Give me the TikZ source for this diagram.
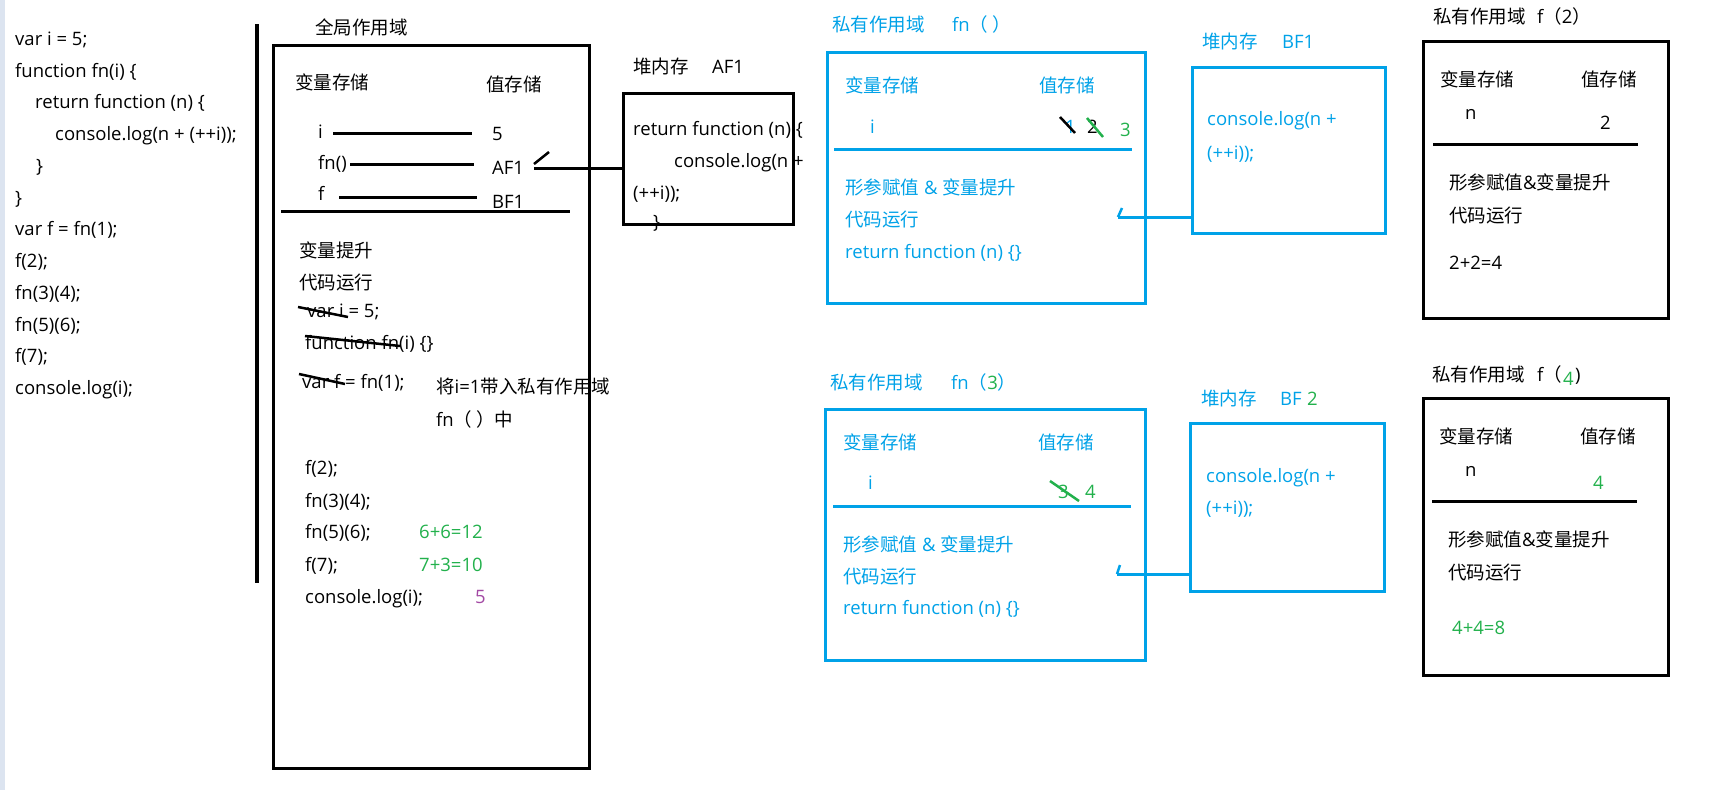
\documentclass[tikz,border=0pt]{standalone}
\usepackage{fontspec}
\setmainfont{Open Sans}
\newfontfamily\cjk{Noto Sans CJK SC}
\newcommand\zh[1]{{\cjk #1}}
\definecolor{pblue}{RGB}{0,162,232}
\definecolor{pgreen}{RGB}{34,177,76}
\definecolor{ppurple}{RGB}{163,73,164}
\definecolor{stripcol}{RGB}{220,228,240}
\begin{document}
\begin{tikzpicture}[x=1pt,y=-1pt,
  t/.style={anchor=west,inner sep=0pt,text height=13pt,text depth=0pt,font=\fontsize{18.5}{22}\selectfont},
  bt/.style={t,text=pblue},
  gt/.style={t,text=pgreen},
  kbox/.style={draw=black,line width=3pt,inner sep=0pt},
  bbox/.style={draw=pblue,line width=3pt,inner sep=0pt},
  kline/.style={black,line width=3pt},
  bline/.style={pblue,line width=3pt},
  strike/.style={line width=2.5pt},
]
\useasboundingbox (0,0) rectangle (1719,790);
\fill[white] (0,0) rectangle (1719,790);
\fill[stripcol] (0,0) rectangle (5,790);

% ---- code listing
\node[t] (c1) at (15,39) {var i = 5;};
\node[t] (c2) at (15,71) {function fn(i) \{};
\node[t] (c3) at (35,102) {return function (n) \{};
\node[t] (c4) at (55,134) {console.log(n + (++i));};
\node[t] (c5) at (36,166) {\}};
\node[t] (c6) at (15,198) {\}};
\node[t] (c7) at (15,229) {var f = fn(1);};
\node[t] (c8) at (15,261) {f(2);};
\node[t] (c9) at (15,293) {fn(3)(4);};
\node[t] (c10) at (15,325) {fn(5)(6);};
\node[t] (c11) at (15,356) {f(7);};
\node[t] (c12) at (15,388) {console.log(i);};
\coordinate (vtop) at (257,24);
\coordinate (vbot) at (257,583);
\draw[black,line width=4pt] (vtop) -- (vbot);

% ---- global scope
\node[t] (gtitle) at (315,28) {\zh{全局作用域}};
\node[kbox,minimum width=316,minimum height=723] (glob) at (431,406.5) {};
\node[t] (gvar) at (295,83) {\zh{变量存储}};
\node[t] (gval) at (486,85) {\zh{值存储}};
\node[t] (gi) at (318,132) {i};
\node[t] (g5) at (492,134) {5};
\draw[kline] (333,133) -- (472,133);
\node[t] (gfn) at (318,163) {fn()};
\node[t] (gaf) at (492,168) {AF1};
\draw[kline] (350,164) -- (474,164);
\node[t] (gf) at (318,194) {f};
\node[t] (gbf) at (492,202) {BF1};
\draw[kline] (339,197) -- (477,197);
\draw[kline] (281,211) -- (570,211);
\node[t] (gh) at (299,251) {\zh{变量提升}};
\node[t] (gr) at (299,283) {\zh{代码运行}};
\node[t] (gs1) at (307,311) {var i = 5;};
\draw[strike] (298,307) -- (348,317);
\node[t] (gs2) at (305,343) {function fn(i) \{\}};
\draw[strike] (305,336) -- (400,346);
\node[t] (gs3) at (302,382) {var f = fn(1);};
\draw[strike] (299,374) -- (345,384);
\node[t] (gn1) at (436,387) {\zh{将}i=1\zh{带入私有作用域}};
\node[t] (gn2) at (436,420) {fn\zh{（ ）中}};
\node[t] (gl1) at (305,468) {f(2);};
\node[t] (gl2) at (305,501) {fn(3)(4);};
\node[t] (gl3) at (305,532) {fn(5)(6);};
\node[gt] (gr3) at (419,532) {6+6=12};
\node[t] (gl4) at (305,565) {f(7);};
\node[gt] (gr4) at (419,565) {7+3=10};
\node[t] (gl5) at (305,597) {console.log(i);};
\node[t,text=ppurple] (gr5) at (475,597) {5};

% ---- heap AF1
\node[t] (hatitle) at (633,67) {\zh{堆内存}};
\node[t] (hatitle2) at (712,67) {AF1};
\node[kbox,minimum width=170,minimum height=131] (heapA) at (708,158.5) {};
\node[t] (ha1) at (633,129) {return function (n) \{};
\node[t] (ha2) at (674,161) {console.log(n +};
\node[t] (ha3) at (633,193) {(++i));};
\node[t] (ha4) at (653,222) {\}};
\coordinate (aconn) at (534,168);
\coordinate (atick0) at (534,164);
\coordinate (atick1) at (549,152);
\draw[kline,line width=2.5pt] (atick0) -- (atick1);
\draw[kline] (aconn) -- (heapA.west |- aconn);

% ---- private fn()
\node[bt] (p1title) at (832,25) {\zh{私有作用域}};
\node[bt] (p1title2) at (952,25) {fn\zh{（ ）}};
\node[bbox,minimum width=318,minimum height=251] (priv1) at (986,177.5) {};
\node[bt] (p1var) at (845,86) {\zh{变量存储}};
\node[bt] (p1val) at (1039,86) {\zh{值存储}};
\node[bt] (p1i) at (870,127) {i};
\node[bt] (p1v1) at (1065,127) {1};
\draw[strike] (1060,117) -- (1075,133);
\node[t] (p1v2) at (1087,127) {2};
\draw[strike,pgreen] (1087,118) -- (1103,137);
\node[gt] (p1v3) at (1120,130) {3};
\draw[bline] (834,149) -- (1132,149);
\node[bt] (p1a) at (845,188) {\zh{形参赋值} \& \zh{变量提升}};
\node[bt] (p1b) at (845,220) {\zh{代码运行}};
\node[bt] (p1c) at (845,252) {return function (n) \{\}};
\coordinate (b1conn) at (1118,217);
\coordinate (b1tick) at (1122,208);
\draw[bline,line width=2.5pt] (b1conn) -- (b1tick);

% ---- heap BF1
\node[bt] (hbtitle) at (1202,42) {\zh{堆内存}};
\node[bt] (hbtitle2) at (1282,42) {BF1};
\node[bbox,minimum width=193,minimum height=166] (heapB) at (1288.5,150) {};
\node[bt] (hb1) at (1207,119) {console.log(n +};
\node[bt] (hb2) at (1207,153) {(++i));};
\draw[bline] (b1conn) -- (heapB.west |- b1conn);

% ---- private f(2)
\node[t] (p2title) at (1433,17) {\zh{私有作用域}};
\node[t] (p2title2) at (1537,17) {f\zh{（}2\zh{）}};
\node[kbox,minimum width=245,minimum height=277] (priv2) at (1545.5,179.5) {};
\node[t] (p2var) at (1440,80) {\zh{变量存储}};
\node[t] (p2val) at (1581,80) {\zh{值存储}};
\node[t] (p2n) at (1465,113) {n};
\node[t] (p2v) at (1600,123) {2};
\draw[kline] (1433,144) -- (1638,144);
\node[t] (p2a) at (1449,183) {\zh{形参赋值}\&\zh{变量提升}};
\node[t] (p2b) at (1449,216) {\zh{代码运行}};
\node[t] (p2c) at (1449,263) {2+2=4};

% ---- private fn(3)
\node[bt] (p3title) at (830,383) {\zh{私有作用域}};
\node[bt] (p3title2) at (951,383) {fn\zh{（}\textcolor{pgreen}{3}\zh{）}};
\node[bbox,minimum width=320,minimum height=251] (priv3) at (985,534.5) {};
\node[bt] (p3var) at (843,443) {\zh{变量存储}};
\node[bt] (p3val) at (1038,443) {\zh{值存储}};
\node[bt] (p3i) at (868,483) {i};
\node[gt] (p3v1) at (1058,492) {3};
\draw[strike,pgreen] (1050,481) -- (1079,501);
\node[gt] (p3v2) at (1085,492) {4};
\draw[bline] (833,506) -- (1131,506);
\node[bt] (p3a) at (843,545) {\zh{形参赋值} \& \zh{变量提升}};
\node[bt] (p3b) at (843,577) {\zh{代码运行}};
\node[bt] (p3c) at (843,608) {return function (n) \{\}};
\coordinate (b2conn) at (1117,574);
\coordinate (b2tick) at (1120,565);
\draw[bline,line width=2.5pt] (b2conn) -- (b2tick);

% ---- heap BF2
\node[bt] (hctitle) at (1201,399) {\zh{堆内存}};
\node[bt] (hctitle2) at (1280,399) {BF};
\node[gt] (hctitle3) at (1307,399) {2};
\node[bbox,minimum width=194,minimum height=168] (heapC) at (1287,507) {};
\node[bt] (hc1) at (1206,476) {console.log(n +};
\node[bt] (hc2) at (1206,508) {(++i));};
\draw[bline] (b2conn) -- (heapC.west |- b2conn);

% ---- private f(4)
\node[t] (p4title) at (1432,375) {\zh{私有作用域}};
\node[t] (p4title2) at (1537,375) {f\zh{（}};
\node[gt] (p4title3) at (1563,379) {4};
\node[t] (p4title4) at (1575,375) {)};
\node[kbox,minimum width=245,minimum height=277] (priv4) at (1545.5,536.5) {};
\node[t] (p4var) at (1439,437) {\zh{变量存储}};
\node[t] (p4val) at (1580,437) {\zh{值存储}};
\node[t] (p4n) at (1465,470) {n};
\node[gt] (p4v) at (1593,483) {4};
\draw[kline] (1432,501) -- (1637,501);
\node[t] (p4a) at (1448,540) {\zh{形参赋值}\&\zh{变量提升}};
\node[t] (p4b) at (1448,573) {\zh{代码运行}};
\node[gt] (p4c) at (1452,628) {4+4=8};
\end{tikzpicture}
\end{document}
